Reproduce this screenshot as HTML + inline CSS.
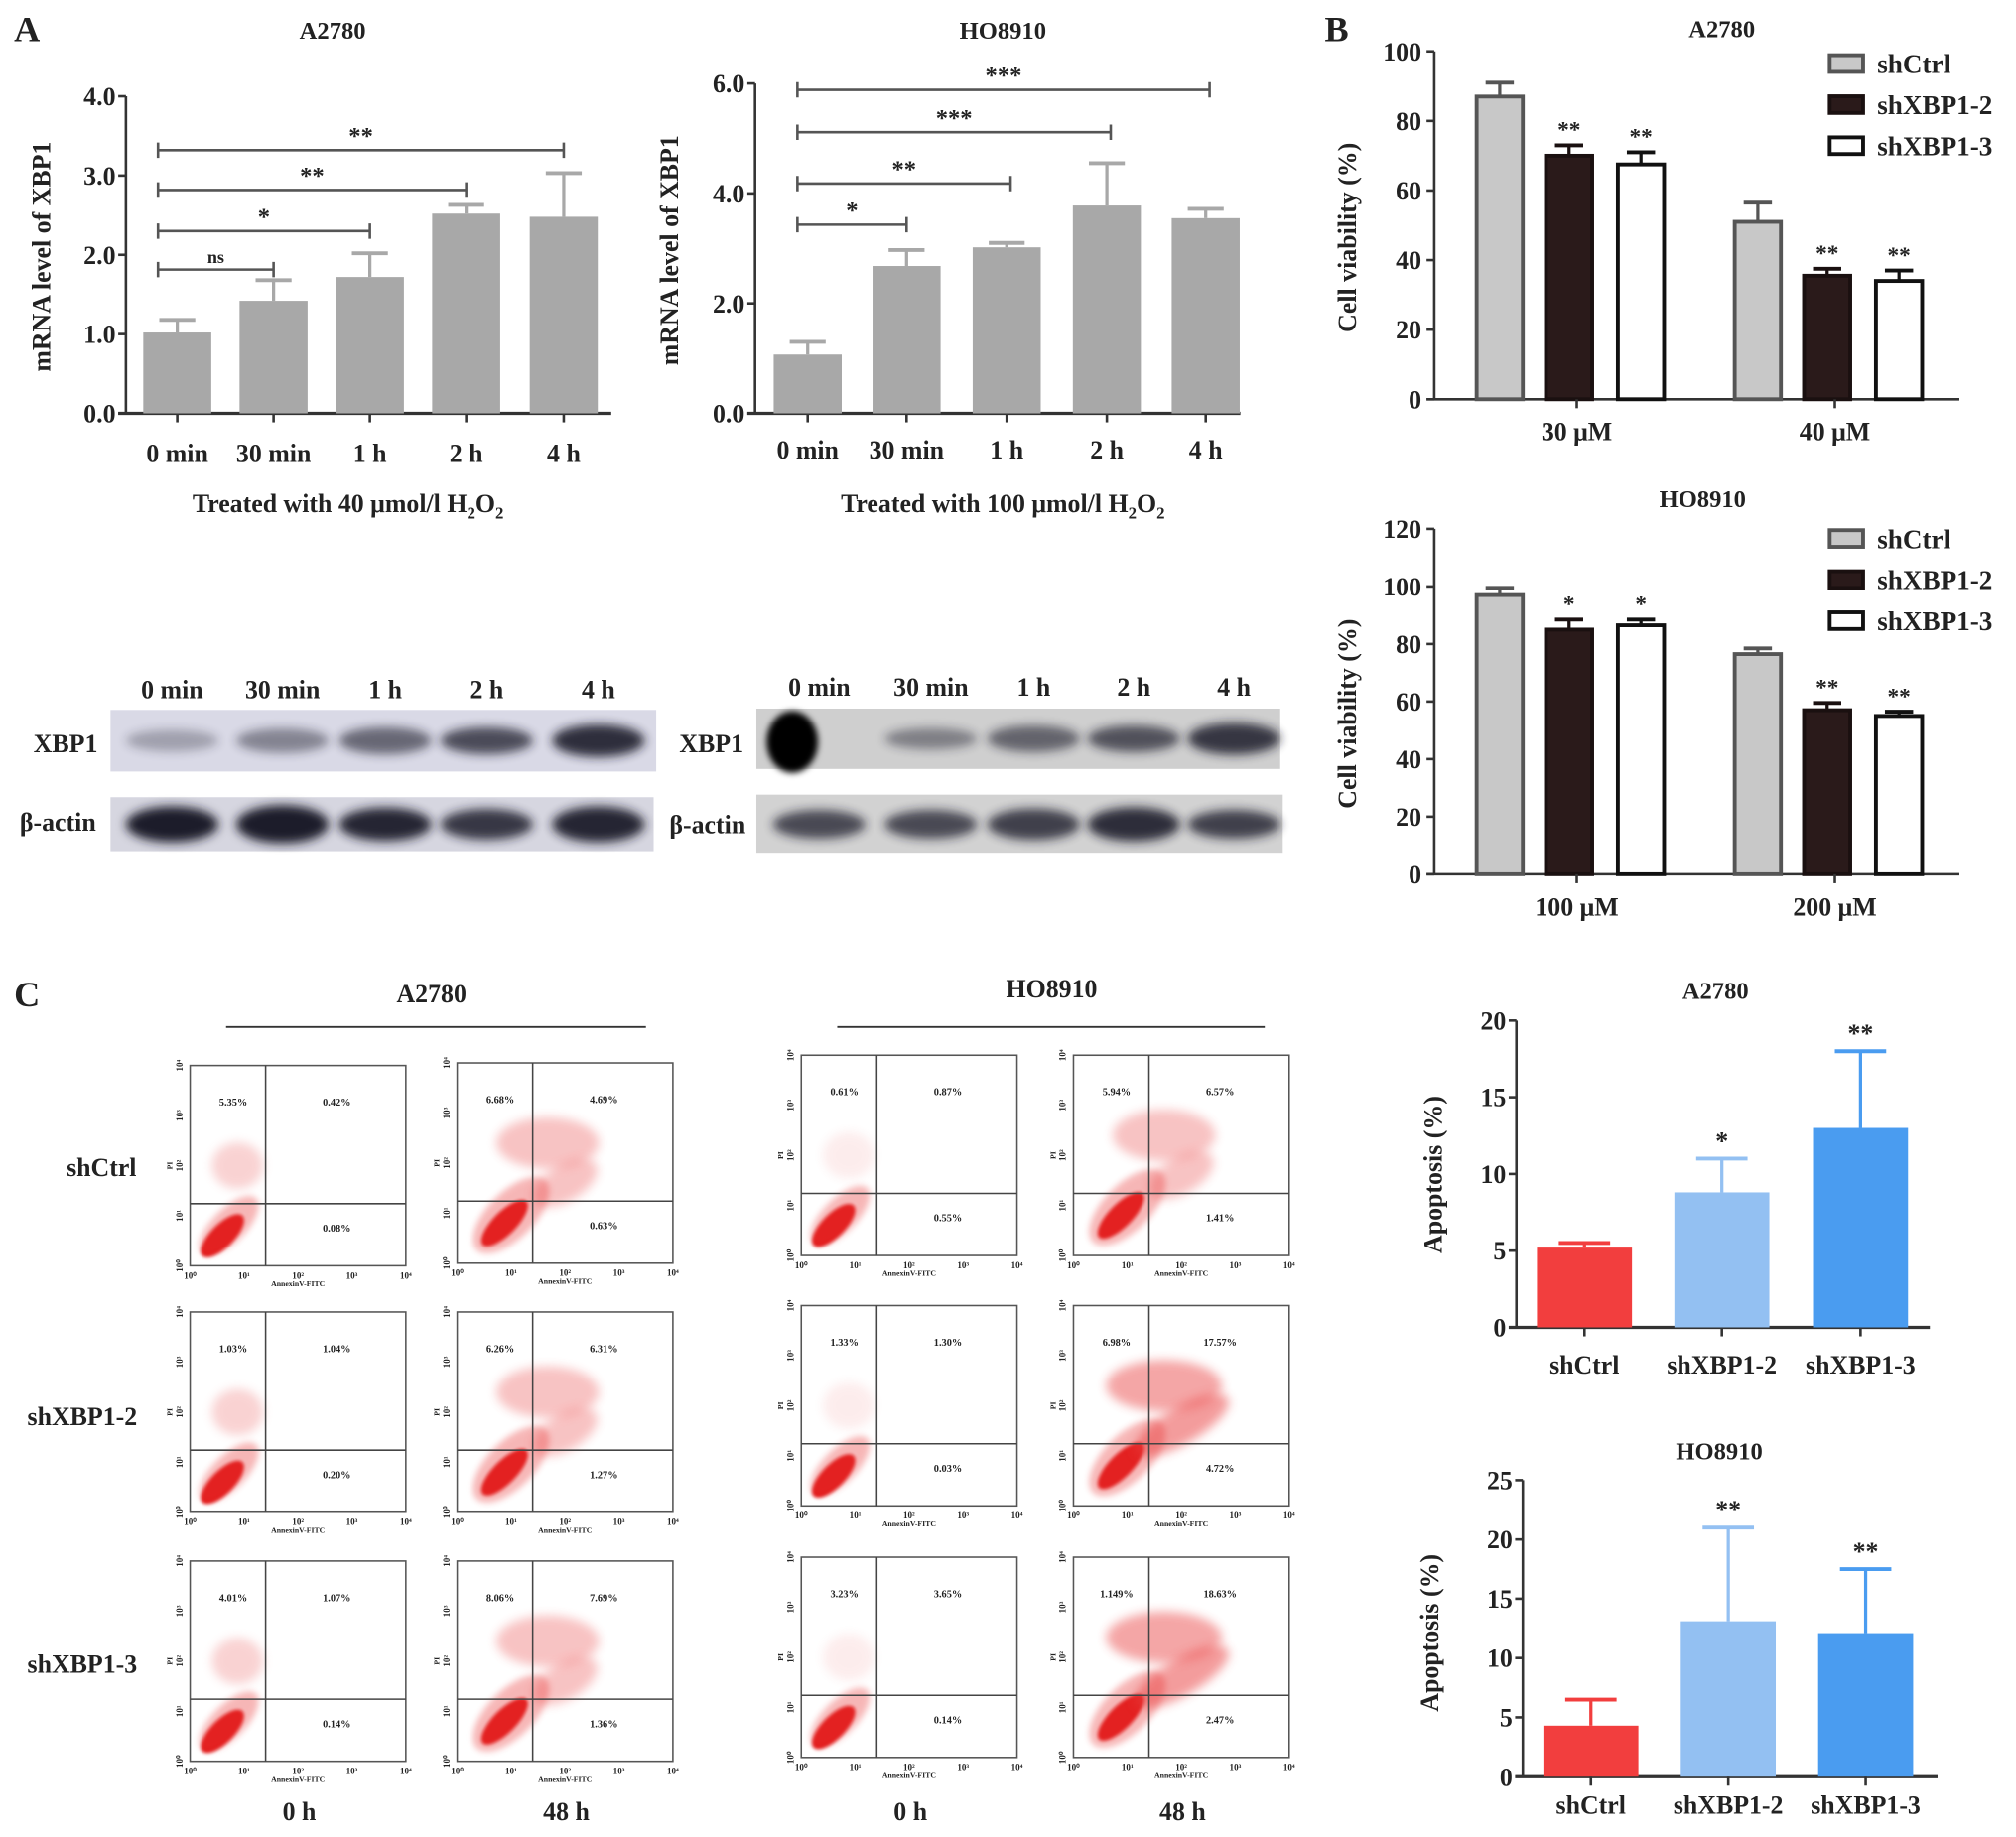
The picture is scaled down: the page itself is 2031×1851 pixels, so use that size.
<!DOCTYPE html>
<html><head><meta charset="utf-8">
<style>
html,body{margin:0;padding:0;background:#fff;}
svg{display:block;}
text{font-family:"Liberation Serif",serif;font-weight:bold;fill:#222;}
</style></head>
<body>
<svg id="fig" width="2031" height="1851" viewBox="0 0 1568 1431" xmlns="http://www.w3.org/2000/svg">
<defs>
<filter id="blur2" x="-50%" y="-50%" width="200%" height="200%"><feGaussianBlur stdDeviation="2.5"/></filter>
<filter id="blur4" x="-50%" y="-50%" width="200%" height="200%"><feGaussianBlur stdDeviation="4"/></filter>
<filter id="blur1" x="-50%" y="-50%" width="200%" height="200%"><feGaussianBlur stdDeviation="1.2"/></filter>
</defs>
</svg>
<script>
// ---- Panel A left (A2780 mRNA) ----
const aCats = ['0 min','30 min','1 h','2 h','4 h'];
const aLeftVals = [1.02, 1.42, 1.72, 2.52, 2.48];
const aLeftErr = [1.18, 1.68, 2.02, 2.63, 3.03];
const aLeftTicks = ['0.0','1.0','2.0','3.0','4.0'];
const aLeftSig = ['ns','*','**','**'];
// ---- Panel A right (HO8910 mRNA) ----
const aRightVals = [1.07, 2.68, 3.02, 3.78, 3.55];
const aRightErr = [1.30, 2.97, 3.10, 4.55, 3.72];
const aRightTicks = ['0.0','2.0','4.0','6.0'];
const aRightSig = ['*','**','***','***'];
// ---- Panel B ----
const bSeries = ['shCtrl','shXBP1-2','shXBP1-3'];
const bTopCats = ['30 μM','40 μM'];
const bTopVals = [[87,70,67.5],[51,35.5,34]];
const bTopErr = [[91,73,71],[56.5,37.5,37]];
const bTopSig = [['','**','**'],['','**','**']];
const bTopTicks = ['0','20','40','60','80','100'];
const bBotCats = ['100 μM','200 μM'];
const bBotVals = [[97,85,86.5],[76.5,57,55]];
const bBotErr = [[99.5,88.5,88.5],[78.5,59.5,56.5]];
const bBotSig = [['','*','*'],['','**','**']];
const bBotTicks = ['0','20','40','60','80','100','120'];
// ---- Panel C bars ----
const cCats = ['shCtrl','shXBP1-2','shXBP1-3'];
const cTopVals = [5.2, 8.8, 13.0];
const cTopErr = [5.5, 11.0, 18.0];
const cTopSig = ['','*','**'];
const cTopTicks = ['0','5','10','15','20'];
const cBotVals = [4.3, 13.1, 12.1];
const cBotErr = [6.5, 21.0, 17.5];
const cBotSig = ['','**','**'];
const cBotTicks = ['0','5','10','15','20','25'];
// ---- Panel C flow percentages ----
const flowPct = [
 [['5.35%','0.42%','0.08%'],['6.68%','4.69%','0.63%'],['0.61%','0.87%','0.55%'],['5.94%','6.57%','1.41%']],
 [['1.03%','1.04%','0.20%'],['6.26%','6.31%','1.27%'],['1.33%','1.30%','0.03%'],['6.98%','17.57%','4.72%']],
 [['4.01%','1.07%','0.14%'],['8.06%','7.69%','1.36%'],['3.23%','3.65%','0.14%'],['1.149%','18.63%','2.47%']]
];

const NS='http://www.w3.org/2000/svg';
const svg=document.getElementById('fig');
function el(tag,attrs,parent,txt){const e=document.createElementNS(NS,tag);for(const k in attrs)e.setAttribute(k,attrs[k]);if(txt!==undefined)e.textContent=txt;(parent||svg).appendChild(e);return e;}
function txt(x,y,s,size,anchor,name,parent,extra){const t=el('text',Object.assign({x:x,y:y,'font-size':size,'text-anchor':anchor||'middle'},extra||{}),parent,s);


return t;}
function grp(name){const g=el('g',{});


return g;}

// ===== simple single-series bar chart =====
function simpleChart(o){
 const g=grp(o.name);
 const yS=v=>o.y0-(v/o.ymax)*(o.y0-o.ytop);
 txt(o.titleX,o.titleY,o.title,19,'middle','chart-title',g);
 const ya=el('line',{x1:o.ax,y1:o.ytop,x2:o.ax,y2:o.y0,stroke:'#333','stroke-width':2},g);
 
 
 o.ticks.forEach((t,i)=>{const v=o.ymax*i/(o.ticks.length-1);const y=yS(v);
  el('line',{x1:o.ax-6,y1:y,x2:o.ax,y2:y,stroke:'#333','stroke-width':2},g);
  txt(o.ax-8,y+7,t,o.tickSize||20,'end','y-tick-label',g);});
 const xa=el('line',{x1:o.ax-6,y1:o.y0,x2:o.axEnd,y2:o.y0,stroke:'#333','stroke-width':2.5},g);
 
 
 txt(o.ylX,o.ylY,o.ylabel,20,'middle','y-axis-title',g,{transform:`rotate(-90 ${o.ylX} ${o.ylY})`});
 o.vals.forEach((v,i)=>{const cx=o.cx[i];const col=Array.isArray(o.color)?o.color[i]:o.color;
  const y=yS(v);
  const r=el('rect',{x:cx-o.bw/2,y:y,width:o.bw,height:o.y0-y,fill:col},g);
  
  
  const ye=yS(o.err[i]);
  el('line',{x1:cx,y1:y,x2:cx,y2:ye,stroke:col,'stroke-width':2.5},g);
  el('line',{x1:cx-o.capW,y1:ye,x2:cx+o.capW,y2:ye,stroke:col,'stroke-width':3},g);
  el('line',{x1:cx,y1:o.y0,x2:cx,y2:o.y0+7,stroke:'#333','stroke-width':2},g);
  txt(cx,o.catY,o.cats[i],o.catSize||20,'middle','x-tick-label',g);
  if(o.sig&&o.sig[i])txt(cx,ye-7,o.sig[i],20,'middle','significance-mark',g,{fill:'#555'});
 });
 return {g,yS};
}

txt(20,32,'A',28,'middle','panel-label-a');
txt(1040,32,'B',28,'middle','panel-label-b');
txt(20,784,'C',28,'middle','panel-label-c');

function h2oTitle(x,y,conc,g){
 const xt=el('text',{x:x,y:y,'font-size':20,'text-anchor':'middle'},g);
 
 
 xt.innerHTML='Treated with '+conc+' μmol/l H<tspan font-size="13" dy="5">2</tspan><tspan dy="-5">O</tspan><tspan font-size="13" dy="5">2</tspan>';
}

// ===== A left =====
(function(){
 const o={name:'chart-a2780-mrna',ax:97,axEnd:475,y0:322,ytop:75,ymax:4,ticks:aLeftTicks,vals:aLeftVals,err:aLeftErr,
 cx:[137,212,287,362,438],bw:53,capW:14,color:'#a8a8a8',cats:aCats,catY:360,title:'A2780',titleX:258,titleY:30,
 ylabel:'mRNA level of XBP1',ylX:38,ylY:200};
 const r=simpleChart(o);
 h2oTitle(270,399,'40',r.g);
 const brY=[210,180,148,117],brEnd=[1,2,3,4];
 brY.forEach((y,i)=>{const x1=122,x2=o.cx[brEnd[i]];
  const b=el('path',{d:`M${x1} ${y-6}V${y+6}M${x1} ${y}H${x2}M${x2} ${y-6}V${y+6}`,stroke:'#555','stroke-width':2,fill:'none'},r.g);
  
  
  txt((x1+x2)/2,y-5,aLeftSig[i],aLeftSig[i]==='ns'?14:19,'middle','significance-mark',r.g,{fill:'#555','font-weight':aLeftSig[i]==='ns'?'normal':'bold'});});
})();

// ===== A right =====
(function(){
 const o={name:'chart-ho8910-mrna',ax:587,axEnd:965,y0:322,ytop:65,ymax:6,ticks:aRightTicks,vals:aRightVals,err:aRightErr,
 cx:[628,705,783,861,938],bw:53,capW:14,color:'#a8a8a8',cats:aCats,catY:357,title:'HO8910',titleX:780,titleY:30,
 ylabel:'mRNA level of XBP1',ylX:527,ylY:195};
 const r=simpleChart(o);
 h2oTitle(780,399,'100',r.g);
 const brY=[175,143,103,70],brEnd=[1,2,3,4];
 brY.forEach((y,i)=>{const x1=620,x2=o.cx[brEnd[i]]+(i===0?0:3);
  const b=el('path',{d:`M${x1} ${y-6}V${y+6}M${x1} ${y}H${x2}M${x2} ${y-6}V${y+6}`,stroke:'#555','stroke-width':2,fill:'none'},r.g);
  
  
  txt((x1+x2)/2,y-5,aRightSig[i],19,'middle','significance-mark',r.g,{fill:'#555'});});
})();

// ===== Western blots =====
function blot(name,x,y,w,h,bg,lanes,strength,extra){
 const g=grp(name);
 el('rect',{x:x,y:y,width:w,height:h,fill:bg},g);
 lanes.forEach((cx,i)=>{const s=strength[i];
  const b=el('ellipse',{cx:cx,cy:y+h/2,rx:36,ry:h*0.22*s.h,fill:'#1a1a2a',opacity:s.o,filter:'url(#blur4)'},g);
  
  });
 if(extra)extra(g);
 return g;
}
const lanesL=[133,219,299,378,465],lanesR=[637,724,804,882,960];
['0 min','30 min','1 h','2 h','4 h'].forEach((s,i)=>{txt(lanesL[i],544,s,20,'middle','lane-label');txt(lanesR[i],542,s,20,'middle','lane-label');});
blot('blot-a2780-xbp1',85,553,425,48,'#d9d9e6',lanesL,[{o:.3,h:.8},{o:.45,h:.9},{o:.6,h:1},{o:.75,h:1},{o:.9,h:1.2}]);
blot('blot-a2780-actin',85,621,423,42,'#d6d6e0',lanesL,[{o:1,h:1.5},{o:1,h:1.6},{o:.95,h:1.4},{o:.85,h:1.3},{o:.95,h:1.5}]);
blot('blot-ho8910-xbp1',588,552,408,47,'#cfcfcf',lanesR,[{o:0,h:1},{o:.45,h:.8},{o:.6,h:1},{o:.7,h:1},{o:.85,h:1.2}],g=>{
 el('ellipse',{cx:616,cy:578,rx:20,ry:24,fill:'#000',filter:'url(#blur2)'},g);});
blot('blot-ho8910-actin',588,619,410,46,'#d2d2d2',lanesR,[{o:.75,h:1.1},{o:.75,h:1.1},{o:.8,h:1.2},{o:.9,h:1.3},{o:.8,h:1.1}]);
txt(50,586,'XBP1',20,'middle','blot-label');txt(44,647,'β-actin',20,'middle','blot-label');
txt(553,586,'XBP1',20,'middle','blot-label');txt(550,649,'β-actin',20,'middle','blot-label');

// ===== Panel B grouped charts =====
const bColors=['#c8c8c8','#2a1a1a','#ffffff'];
const bStroke=['#555','#1a1010','#111'];
function groupedChart(o){
 const g=grp(o.name);
 const yS=v=>o.y0-(v/o.ymax)*(o.y0-o.ytop);
 txt(o.titleX,o.titleY,o.title,19,'middle','chart-title',g);
 const ya=el('line',{x1:o.ax,y1:o.ytop,x2:o.ax,y2:o.y0,stroke:'#333','stroke-width':2},g);
 
 
 o.ticks.forEach((t,i)=>{const y=yS(o.ymax*i/(o.ticks.length-1));
  el('line',{x1:o.ax-6,y1:y,x2:o.ax,y2:y,stroke:'#333','stroke-width':2},g);
  txt(o.ax-10,y+7,t,20,'end','y-tick-label',g);});
 const xa=el('line',{x1:o.ax-6,y1:o.y0,x2:1525,y2:o.y0,stroke:'#333','stroke-width':2},g);
 
 
 txt(1055,o.ylY,'Cell viability (%)',20,'middle','y-axis-title',g,{transform:`rotate(-90 1055 ${o.ylY})`});
 const gc=[1222,1423],off=[-55,-1,55],bw=36;
 o.vals.forEach((grpV,gi)=>{
  grpV.forEach((v,si)=>{const cx=gc[gi]+off[si];const y=yS(v);
   const r=el('rect',{x:cx-bw/2,y:y,width:bw,height:o.y0-y,fill:bColors[si],stroke:bStroke[si],'stroke-width':3},g);
   
   
   const ye=yS(o.err[gi][si]);
   el('line',{x1:cx,y1:y,x2:cx,y2:ye,stroke:bStroke[si],'stroke-width':2.5},g);
   el('line',{x1:cx-11,y1:ye,x2:cx+11,y2:ye,stroke:bStroke[si],'stroke-width':3},g);
   if(o.sig[gi][si])txt(cx,ye-6,o.sig[gi][si],18,'middle','significance-mark',g,{fill:'#666'});
  });
  el('line',{x1:gc[gi]+5,y1:o.y0,x2:gc[gi]+5,y2:o.y0+7,stroke:'#333','stroke-width':2},g);
  txt(gc[gi]+5,o.y0+32,o.cats[gi],20,'middle','x-tick-label',g);
 });
 bSeries.forEach((s,i)=>{const ly=o.legY+i*32;
  const lg=el('g',{},g);
  
  
  el('rect',{x:1424,y:ly-7,width:26,height:13,fill:bColors[i],stroke:bStroke[i],'stroke-width':3},lg);
  txt(1461,ly+7,s,21,'start','legend-label',lg);});
}
groupedChart({name:'chart-b-a2780-viability',title:'A2780',titleX:1340,titleY:29,ax:1116,y0:311,ytop:40,ymax:100,ticks:bTopTicks,
 vals:bTopVals,err:bTopErr,sig:bTopSig,cats:bTopCats,legY:50,ylY:185});
groupedChart({name:'chart-b-ho8910-viability',title:'HO8910',titleX:1325,titleY:395,ax:1116,y0:681,ytop:412,ymax:120,ticks:bBotTicks,
 vals:bBotVals,err:bBotErr,sig:bBotSig,cats:bBotCats,legY:420,ylY:556});

// ===== Panel C apoptosis bars =====
const cColors=['#f23e3e','#93c0f2','#4a9cf0'];
simpleChart({name:'chart-c-a2780-apoptosis',ax:1180,axEnd:1502,y0:1034,ytop:795,ymax:20,ticks:cTopTicks,vals:cTopVals,err:cTopErr,
 cx:[1233,1340,1448],bw:74,capW:20,color:cColors,cats:cCats,catY:1070,title:'A2780',titleX:1335,titleY:778,sig:cTopSig,
 ylabel:'Apoptosis (%)',ylX:1122,ylY:915});
simpleChart({name:'chart-c-ho8910-apoptosis',ax:1185,axEnd:1508,y0:1384,ytop:1153,ymax:25,ticks:cBotTicks,vals:cBotVals,err:cBotErr,
 cx:[1238,1345,1452],bw:74,capW:20,color:cColors,cats:cCats,catY:1413,title:'HO8910',titleX:1338,titleY:1137,sig:cBotSig,
 ylabel:'Apoptosis (%)',ylX:1119,ylY:1272});

// ===== Flow cytometry =====
txt(335,781,'A2780',20,'middle','group-title-a2780');
txt(818,777,'HO8910',20,'middle','group-title-ho8910');
el('line',{x1:175,y1:800,x2:502,y2:800,stroke:'#333','stroke-width':1.5});
el('line',{x1:651,y1:800,x2:984,y2:800,stroke:'#333','stroke-width':1.5});
const rowNames=['shCtrl','shXBP1-2','shXBP1-3'];
const rowLY=[916,1110,1303],rowLX=[78,63,63];
rowNames.forEach((n,i)=>txt(rowLX[i],rowLY[i],n,20,'middle','row-label'));
const colX=[147,355,623,835],colTop=[[830,1022,1216],[828,1022,1216],[822,1017,1213],[822,1017,1213]];
['0 h','48 h','0 h','48 h'].forEach((s,i)=>txt(colX[i]+85,1418,s,20,'middle','column-label'));
function flowPlot(ci,ri){
 const x=colX[ci],y=colTop[ci][ri],w=168,h=156;
 const g=grp('flow-plot-'+(ci<2?'a2780':'ho8910')+'-'+rowNames[ri]+'-'+(ci%2?'48h':'0h'));
 el('rect',{x:x,y:y,width:w,height:h,fill:'#fff',stroke:'#555','stroke-width':1.2},g);
 const qx=x+w*0.35,qy=y+h*0.69;
 const late=ci%2===1;
 const big=(ci===3&&ri>0);
 const bx=x+w*(late?0.22:0.15),by=y+h*(late?0.8:0.85);
 el('ellipse',{cx:bx,cy:by,rx:late?24:22,ry:9,transform:`rotate(-45 ${bx} ${by})`,fill:'#e01010',opacity:.95,filter:'url(#blur1)'},g);
 const bx2=x+w*(late?0.25:0.18),by2=y+h*(late?0.76:0.8);
 el('ellipse',{cx:bx2,cy:by2,rx:late?38:30,ry:late?18:13,transform:`rotate(-45 ${bx2} ${by2})`,fill:'#e83030',opacity:.35,filter:'url(#blur2)'},g);
 if(late){
  el('ellipse',{cx:x+w*0.42,cy:y+h*0.4,rx:big?45:40,ry:20,fill:'#e83a3a',opacity:big?.45:.3,filter:'url(#blur4)'},g);
  el('ellipse',{cx:x+w*0.5,cy:y+h*0.6,rx:big?42:28,ry:14,transform:`rotate(-30 ${x+w*0.5} ${y+h*0.6})`,fill:'#e83a3a',opacity:big?.5:.3,filter:'url(#blur4)'},g);
 } else {
  el('ellipse',{cx:x+w*0.22,cy:y+h*0.5,rx:20,ry:18,fill:'#e85050',opacity:ci===2?.1:.25,filter:'url(#blur4)'},g);
 }
 el('line',{x1:qx,y1:y,x2:qx,y2:y+h,stroke:'#444','stroke-width':1.2},g);
 el('line',{x1:x,y1:qy,x2:x+w,y2:qy,stroke:'#444','stroke-width':1.2},g);
 const p=flowPct[ri][ci];
 txt(x+w*0.2,y+h*0.2,p[0],8,'middle','quadrant-percent',g);
 txt(x+w*0.68,y+h*0.2,p[1],8,'middle','quadrant-percent',g);
 txt(x+w*0.68,y+h*0.83,p[2],8,'middle','quadrant-percent',g);
 ['10⁰','10¹','10²','10³','10⁴'].forEach((t,k)=>{txt(x+k*w/4,y+h+10,t,7,'middle','x-tick-label',g,{'font-weight':'normal'});
  txt(x-6,y+h-k*h/4,t,7,'middle','y-tick-label',g,{'font-weight':'normal',transform:`rotate(-90 ${x-6} ${y+h-k*h/4})`});});
 txt(x+w*0.5,y+h+16,'AnnexinV-FITC',6,'middle','x-axis-title',g,{'font-weight':'normal'});
 txt(x-14,y+h*0.5,'PI',6,'middle','y-axis-title',g,{'font-weight':'normal',transform:`rotate(-90 ${x-14} ${y+h*0.5})`});
}
for(let ci=0;ci<4;ci++)for(let ri=0;ri<3;ri++)flowPlot(ci,ri);
</script>
</body></html>
